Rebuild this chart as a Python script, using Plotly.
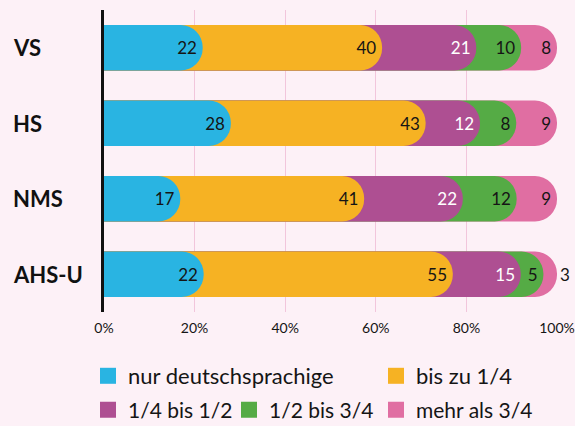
import plotly.graph_objects as go
import numpy as np

categories = ["VS", "HS", "NMS", "AHS-U"]
series_names = ["nur deutschsprachige", "bis zu 1/4", "1/4 bis 1/2", "1/2 bis 3/4", "mehr als 3/4"]
nur_deutsch = [22, 28, 17, 22]
bis_viertel = [40, 43, 41, 55]
viertel_halb = [21, 12, 22, 15]
halb_dreiviertel = [10, 8, 12, 5]
mehr_dreiviertel = [8, 9, 9, 3]
tick_vals = [0, 20, 40, 60, 80, 100]
tick_text = ["0%", "20%", "40%", "60%", "80%", "100%"]

colors = ["#29B4E2", "#F6B223", "#AE4F92", "#55AB45", "#E06EA2"]
text_colors = ["#151515", "#151515", "#FFFFFF", "#151515", "#151515"]
BG = "#FDF1F7"
FONT = "Lato"

series = [nur_deutsch, bis_viertel, viertel_halb, halb_dreiviertel, mehr_dreiviertel]
arr = np.array(series, dtype=float)
totals = arr.sum(axis=0)
cum = np.cumsum(arr, axis=0) / totals * 100.0

n = len(series)
fig = go.Figure()
# each cumulative bar sits on its own overlaid y axis so every bar gets its own rounded end;
# the longest bar is drawn first (bottom), the first segment last (top)
for k, i in enumerate(reversed(range(n))):
    yname = "y" if k == 0 else f"y{k + 1}"
    vals = series[i]
    positions = ["inside"] * len(vals)
    if i == n - 1:
        positions = ["outside" if v < 5 else "inside" for v in vals]
    fig.add_trace(go.Bar(
        y=categories, x=cum[i], orientation="h", yaxis=yname,
        marker=dict(color=colors[i], line=dict(width=0), cornerradius="50%"),
        width=0.6,
        text=[str(v) for v in vals], textposition=positions,
        insidetextanchor="end",
        insidetextfont=dict(color=text_colors[i], size=17, family=FONT),
        outsidetextfont=dict(color="#151515", size=17, family=FONT),
        cliponaxis=False, showlegend=False, hoverinfo="skip",
    ))

legend_ids = ["legend", "legend2", "legend3", "legend4", "legend5"]
for i, name in enumerate(series_names):
    fig.add_trace(go.Scatter(
        x=[None], y=[None], mode="markers", name=name,
        marker=dict(symbol="square", size=16, color=colors[i]),
        legend=legend_ids[i],
    ))

for c in categories:
    fig.add_annotation(x=-93/453, xref="paper", y=c, yref="y", text=f"<b>{c}</b>",
                       showarrow=False, xanchor="left",
                       font=dict(size=22, family=FONT, color="#111111"))

ycommon = dict(categoryorder="array", categoryarray=categories, autorange="reversed",
               showticklabels=False, showgrid=False, zeroline=False, ticks="")

layout_axes = {}
for k in range(n):
    key = "yaxis" if k == 0 else f"yaxis{k + 1}"
    ax = dict(ycommon)
    if k > 0:
        ax.update(overlaying="y", matches="y")
    # the axis line belongs to the topmost layer so bars never cover it
    ax.update(showline=(k == n - 1), linecolor="#111111", linewidth=3)
    layout_axes[key] = ax

leg_common = dict(orientation="h", xref="container", xanchor="left", yref="container",
                  yanchor="middle", bgcolor="rgba(0,0,0,0)")
f_row1 = dict(size=22, family=FONT)
f_row2 = dict(size=21, family=FONT)
row1 = 1 - 376/426
row2 = 1 - 410/426

fig.update_layout(
    width=575, height=426,
    margin=dict(l=104, r=18, t=10, b=114, autoexpand=False),
    paper_bgcolor=BG, plot_bgcolor=BG,
    barmode="overlay",
    font=dict(family=FONT, color="#151515"),
    xaxis=dict(range=[0, 100], tickvals=tick_vals, ticktext=tick_text,
               showgrid=True, gridcolor="#F2C6DC", gridwidth=1, zeroline=False,
               showline=False, tickfont=dict(size=14), ticks="", ticklabelstandoff=6),
    legend=dict(x=88/575, y=row1, font=f_row1, **leg_common),
    legend2=dict(x=376/575, y=row1, font=f_row1, **leg_common),
    legend3=dict(x=88/575, y=row2, font=f_row2, **leg_common),
    legend4=dict(x=229/575, y=row2, font=f_row2, **leg_common),
    legend5=dict(x=376/575, y=row2, font=f_row2, **leg_common),
    **layout_axes,
)

fig.write_html("out.html", config={"displayModeBar": False},
               post_script="document.body.style.margin='0';")
